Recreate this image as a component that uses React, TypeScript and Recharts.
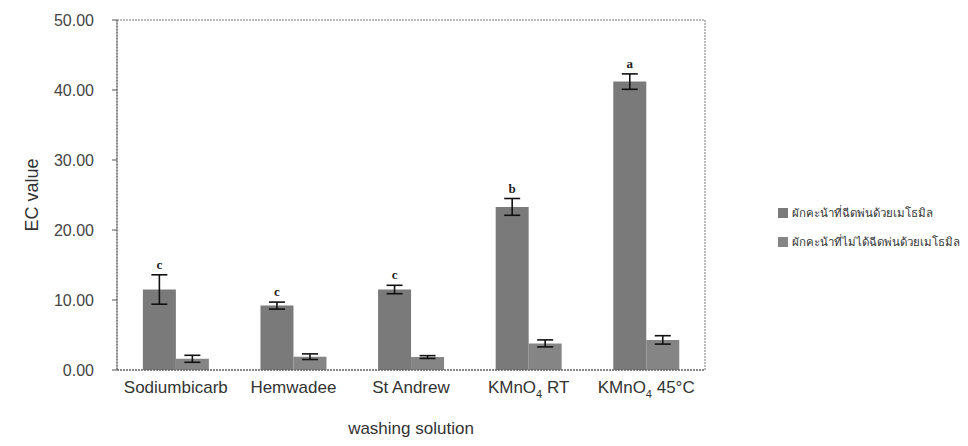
import {
  BarChart,
  Bar,
  XAxis,
  YAxis,
  ErrorBar,
  LabelList,
  ReferenceArea,
} from "recharts";

const categories = ["Sodiumbicarb", "Hemwadee", "St Andrew", "KMnO4 RT", "KMnO4 45°C"];
const sprayed = [11.5, 9.2, 11.5, 23.3, 41.2];
const sprayedErr = [2.1, 0.5, 0.6, 1.2, 1.1];
const unsprayed = [1.6, 1.9, 1.85, 3.8, 4.3];
const unsprayedErr = [0.5, 0.4, 0.2, 0.5, 0.6];
const letters = ["c", "c", "c", "b", "a"];
const yTicks = [0, 10, 20, 30, 40, 50];

const SERIES_NAMES = [
  "ผักคะน้าที่ฉีดพ่นด้วยเมโธมิล",
  "ผักคะน้าที่ไม่ได้ฉีดพ่นด้วยเมโธมิล",
];
const SERIES_COLORS = ["#7a7a7a", "#858585"];

const FONT = "'Liberation Sans', Arial, sans-serif";

const data = categories.map((name, i) => ({
  name,
  sprayed: sprayed[i],
  sprayedErr: sprayedErr[i],
  unsprayed: unsprayed[i],
  unsprayedErr: unsprayedErr[i],
  letter: letters[i],
}));

function XTick(props: any) {
  const { x, y, payload } = props;
  const label: string = payload.value;
  if (label.startsWith("KMnO4")) {
    const rest = label.slice(5);
    return (
      <text x={x} y={y} dy={15} textAnchor="middle" fontSize={17} fill="#333" fontFamily={FONT}>
        KMnO
        <tspan fontSize={11} dy={5}>4</tspan>
        <tspan dy={-5}>{rest}</tspan>
      </text>
    );
  }
  return (
    <text x={x} y={y} dy={15} textAnchor="middle" fontSize={17} fill="#333" fontFamily={FONT}>
      {label}
    </text>
  );
}

function LetterLabel(props: any) {
  const { x, y, width, height, value, index } = props;
  const v = sprayed[index];
  const errPx = v > 0 ? (sprayedErr[index] * height) / v : 0;
  return (
    <text
      x={x + width / 2}
      y={y - errPx - 6}
      textAnchor="middle"
      fontSize={13}
      fontWeight="bold"
      fill="#222"
      fontFamily="'Liberation Serif', serif"
    >
      {value}
    </text>
  );
}

export default function App() {
  return (
    <div style={{ position: "absolute", left: 0, top: 0, width: 968, height: 446, background: "#fff" }}>
      <BarChart
        width={968}
        height={446}
        data={data}
        margin={{ top: 20, right: 263, bottom: 36, left: 47 }}
        barCategoryGap="22%"
        barGap={0}
      >
        <ReferenceArea
          y1={0}
          y2={50}
          fill="none"
          stroke="#777"
          strokeDasharray="2 1"
          ifOverflow="visible"
        />
        <XAxis
          dataKey="name"
          tick={<XTick />}
          tickLine={false}
          axisLine={{ stroke: "#555", strokeDasharray: "2 1" }}
          height={40}
          interval={0}
          label={{
            value: "washing solution",
            position: "insideBottom",
            offset: -24,
            fontSize: 17,
            fill: "#333",
            fontFamily: FONT,
          }}
        />
        <YAxis
          domain={[0, 50]}
          ticks={yTicks}
          width={70}
          tickSize={5}
          tickMargin={18}
          tickFormatter={(v: number) => v.toFixed(2)}
          tick={{ fontSize: 16, fill: "#444", fontFamily: FONT }}
          tickLine={{ stroke: "#555" }}
          axisLine={{ stroke: "#555", strokeDasharray: "2 1" }}
          label={{
            value: "EC value",
            angle: -90,
            position: "insideLeft",
            offset: -15,
            fontSize: 18,
            fill: "#333",
            fontFamily: FONT,
            style: { textAnchor: "middle" },
          }}
        />
        <Bar dataKey="sprayed" name={SERIES_NAMES[0]} fill={SERIES_COLORS[0]} isAnimationActive={false}>
          <ErrorBar dataKey="sprayedErr" width={8} stroke="#111" strokeWidth={1.6} />
          <LabelList dataKey="letter" content={<LetterLabel />} />
        </Bar>
        <Bar dataKey="unsprayed" name={SERIES_NAMES[1]} fill={SERIES_COLORS[1]} isAnimationActive={false}>
          <ErrorBar dataKey="unsprayedErr" width={8} stroke="#111" strokeWidth={1.6} />
        </Bar>
      </BarChart>
      <div
        style={{
          position: "absolute",
          left: 778,
          top: 198,
          fontFamily: "'Noto Sans', sans-serif",
          fontSize: 11.5,
          color: "#333",
          whiteSpace: "nowrap",
        }}
      >
        {SERIES_NAMES.map((n, i) => (
          <div key={n} style={{ display: "flex", alignItems: "center", height: 29 }}>
            <span
              style={{
                display: "inline-block",
                width: 10,
                height: 10,
                background: SERIES_COLORS[i],
                marginRight: 4,
              }}
            />
            {n}
          </div>
        ))}
      </div>
    </div>
  );
}
